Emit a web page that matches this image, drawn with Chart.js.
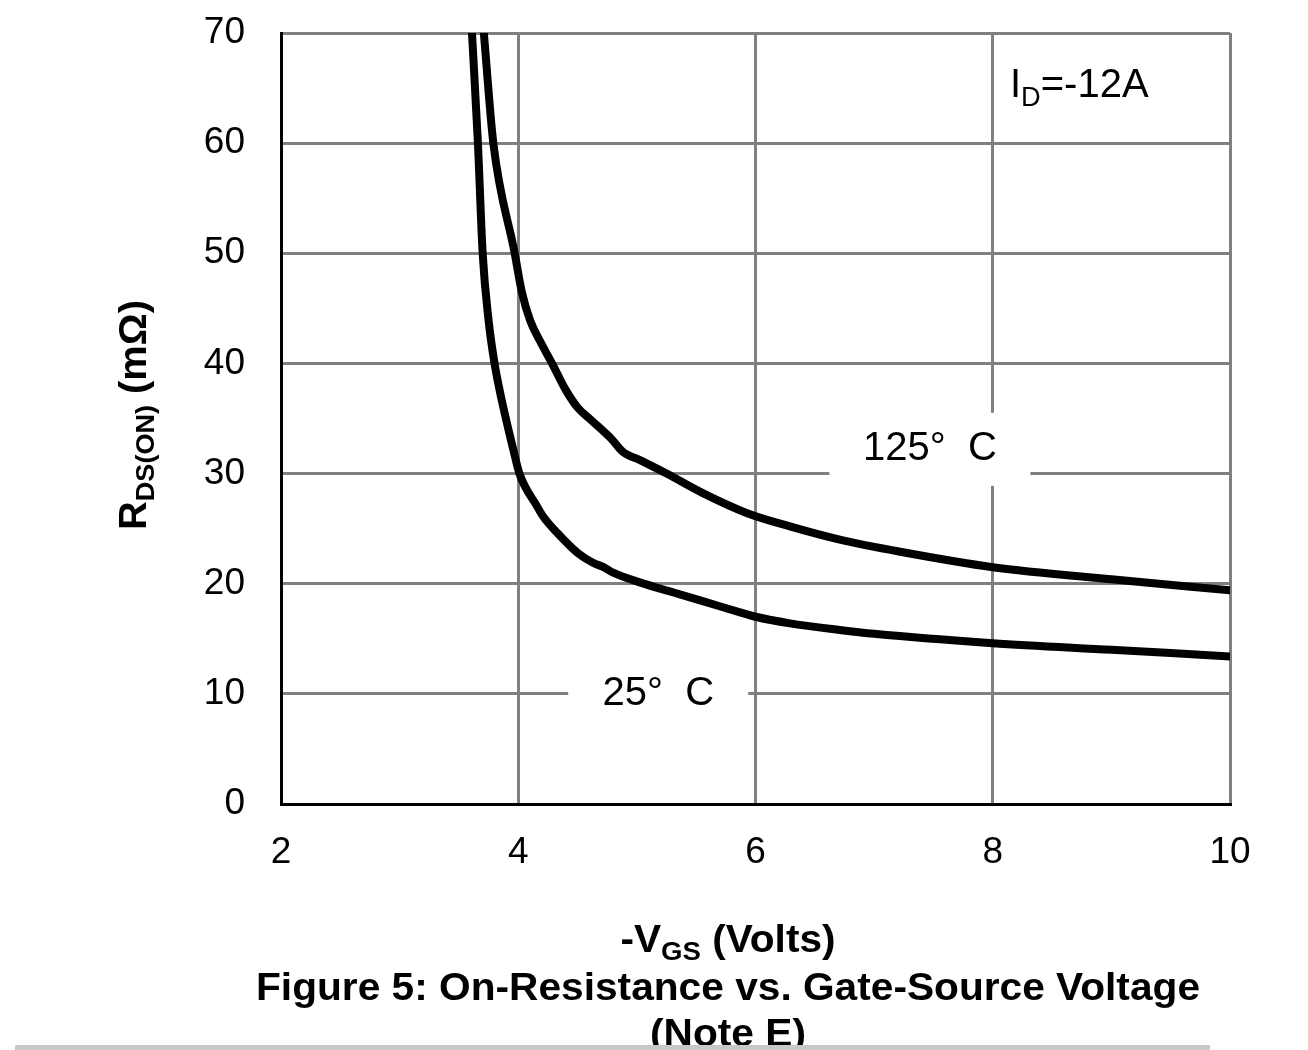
<!DOCTYPE html>
<html>
<head>
<meta charset="utf-8">
<script src="https://cdn.jsdelivr.net/npm/chart.js@4/dist/chart.umd.min.js"></script>
<style>
  html, body { margin: 0; padding: 0; background: #fff; }
  #wrap { width: 1308px; height: 1050px; position: relative; }
</style>
</head>
<body>
<div id="wrap"><canvas id="myChart" width="1308" height="1050"></canvas></div>
<script>
// -VGS (V) and RDS(ON) (mOhm)
const vgs25 = [3.61, 3.66, 3.70, 3.75, 3.80, 3.86, 3.96, 4.01, 4.16, 4.21, 4.33, 4.50, 4.63, 4.72, 4.80, 5.03, 5.31, 5.59, 5.87, 6.0, 6.29, 6.71, 7.0, 8.0, 9.0, 10.0];
const rds25 = [70, 60, 50, 43.9, 40, 36.7, 32.1, 30.0, 27.0, 26.1, 24.6, 22.8, 21.9, 21.5, 21.0, 20.1, 19.2, 18.3, 17.4, 17.0, 16.4, 15.8, 15.45, 14.6, 14.0, 13.4];
const vgs125 = [3.71, 3.79, 3.97, 4.03, 4.10, 4.18, 4.29, 4.40, 4.50, 4.61, 4.79, 4.88, 5.03, 5.25, 5.56, 5.93, 6.29, 6.71, 7.22, 8.0, 9.0, 10.0];
const rds125 = [70, 60, 50, 46.5, 43.9, 42.1, 39.9, 37.6, 36.0, 34.9, 33.1, 32.0, 31.2, 30.0, 28.2, 26.4, 25.2, 24.0, 22.9, 21.5, 20.4, 19.4];
const xTicks = [2, 4, 6, 8, 10];
const yTicks = [0, 10, 20, 30, 40, 50, 60, 70];

const FONT = '"Liberation Sans", Arial, sans-serif';

function pts(xs, ys) {
  return xs.map((x, i) => ({ x: x, y: ys[i] }));
}

// draws text pieces with subscripts, returns width
function richText(ctx, parts, x, y, size, bold, measureOnly) {
  let w = 0;
  parts.forEach(p => {
    const s = p.sub ? size * 0.68 : size;
    ctx.font = (bold ? 'bold ' : '') + s + 'px ' + FONT;
    if (!measureOnly) ctx.fillText(p.t, x + w, y + (p.sub ? size * 0.22 : 0));
    w += ctx.measureText(p.t).width;
  });
  return w;
}

const annotations = {
  id: 'annotations',
  afterDatasetsDraw(chart) {
    const ctx = chart.ctx;
    const xs = chart.scales.x, ys = chart.scales.y;
    ctx.save();
    ctx.fillStyle = '#000';

    // curve labels with white boxes over the grid
    const labels = [
      { text: '125°  C', x: 7.47, y: 32.2, bw: 201, bh: 73 },
      { text: '25°  C', x: 5.18, y: 10.0, bw: 180, bh: 78 }
    ];
    labels.forEach(l => {
      const px = xs.getPixelForValue(l.x), py = ys.getPixelForValue(l.y);
      ctx.fillStyle = '#fff';
      ctx.fillRect(px - l.bw / 2, py - l.bh / 2, l.bw, l.bh);
      ctx.fillStyle = '#000';
      ctx.font = '40px ' + FONT;
      ctx.textAlign = 'center';
      ctx.textBaseline = 'middle';
      ctx.fillText(l.text, px, py);
    });

    // I_D note
    ctx.textAlign = 'left';
    ctx.textBaseline = 'alphabetic';
    richText(ctx, [{ t: 'I' }, { t: 'D', sub: true }, { t: '=-12A' }], 1010, 97, 40, false);

    // y axis title
    ctx.save();
    ctx.translate(146, 415);
    ctx.rotate(-Math.PI / 2);
    const yParts = [{ t: 'R' }, { t: 'DS(ON)', sub: true }, { t: ' (mΩ)' }];
    const yw = richText(ctx, yParts, 0, 0, 38, true, true);
    ctx.scale(230 / yw, 1);
    richText(ctx, yParts, -yw / 2, 0, 38, true);
    ctx.restore();

    // x axis title
    const xParts = [{ t: '-V' }, { t: 'GS', sub: true }, { t: ' (Volts)' }];
    ctx.save();
    ctx.translate(728, 952);
    const xw = richText(ctx, xParts, 0, 0, 38, true, true);
    ctx.scale(215 / xw, 1);
    richText(ctx, xParts, -xw / 2, 0, 38, true);
    ctx.restore();

    // figure caption
    const cap = 'Figure 5: On-Resistance vs. Gate-Source Voltage';
    ctx.font = 'bold 38px ' + FONT;
    const cw = ctx.measureText(cap).width;
    ctx.save();
    ctx.translate(728, 1000);
    ctx.scale(944 / cw, 1);
    ctx.textAlign = 'center';
    ctx.fillText(cap, 0, 0);
    ctx.restore();
    ctx.save();
    ctx.translate(728, 1046);
    ctx.scale(944 / cw, 1);
    ctx.textAlign = 'center';
    ctx.fillText('(Note E)', 0, 0);
    ctx.restore();

    ctx.fillStyle = '#c8c8c8';
    ctx.fillRect(15, 1045, 1195, 5);
    ctx.restore();
  }
};

window.addEventListener('load', setup);

function setup() {
  const ctx = document.getElementById('myChart').getContext('2d');
  new Chart(ctx, {
    type: 'line',
    data: {
      datasets: [
        {
          label: '25° C',
          data: pts(vgs25, rds25),
          borderColor: '#000',
          borderWidth: 8,
          borderCapStyle: 'round',
          borderJoinStyle: 'round',
          pointRadius: 0,
          fill: false,
          cubicInterpolationMode: 'monotone'
        },
        {
          label: '125° C',
          data: pts(vgs125, rds125),
          borderColor: '#000',
          borderWidth: 8,
          borderCapStyle: 'round',
          borderJoinStyle: 'round',
          pointRadius: 0,
          fill: false,
          cubicInterpolationMode: 'monotone'
        }
      ]
    },
    options: {
      responsive: false,
      animation: false,
      layout: { padding: { top: 33, right: 78, left: 0, bottom: 0 } },
      plugins: { legend: { display: false }, tooltip: { enabled: false } },
      scales: {
        x: {
          type: 'linear',
          min: 2, max: 10,
          afterBuildTicks: s => { s.ticks = xTicks.map(v => ({ value: v })); },
          afterFit: s => { s.height = 246; s.paddingLeft = 0; s.paddingRight = 0; },
          grid: { color: '#808080', lineWidth: 3, drawTicks: false },
          border: { color: '#000', width: 3 },
          ticks: { color: '#000', padding: 27, font: { family: FONT, size: 37 } }
        },
        y: {
          type: 'linear',
          min: 0, max: 70,
          afterBuildTicks: s => { s.ticks = yTicks.map(v => ({ value: v })); },
          afterFit: s => { s.width = 281; s.paddingTop = 0; s.paddingBottom = 0; },
          grid: { color: '#808080', lineWidth: 3, drawTicks: false },
          border: { color: '#000', width: 3 },
          ticks: { color: '#000', padding: 36, font: { family: FONT, size: 37 } }
        }
      }
    },
    plugins: [annotations]
  });
}
</script>
</body>
</html>
